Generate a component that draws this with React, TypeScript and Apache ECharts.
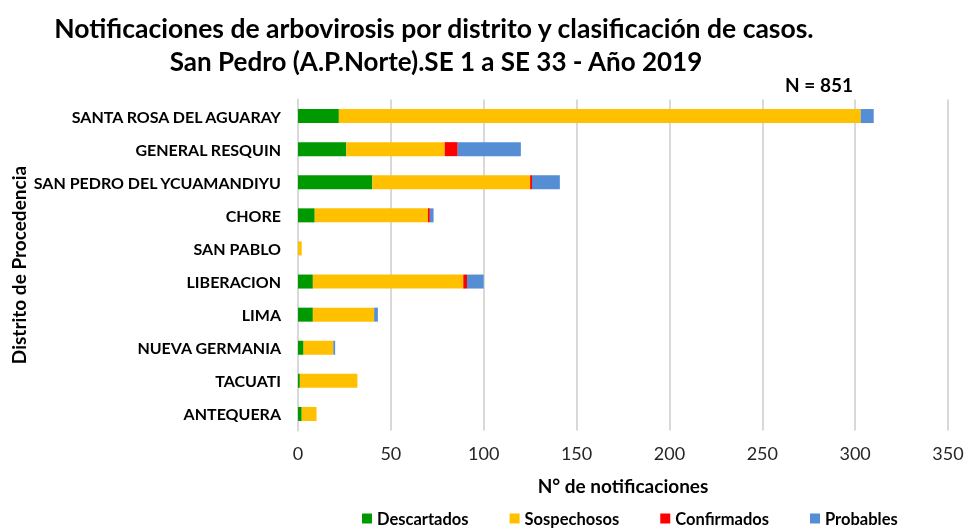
import React, { useEffect, useRef } from "react";
import * as echarts from "echarts";

const districts = [
  "SANTA ROSA DEL AGUARAY",
  "GENERAL RESQUIN",
  "SAN PEDRO DEL YCUAMANDIYU",
  "CHORE",
  "SAN PABLO",
  "LIBERACION",
  "LIMA",
  "NUEVA GERMANIA",
  "TACUATI",
  "ANTEQUERA",
];
const descartados = [22, 26, 40, 9, 0, 8, 8, 3, 1, 2];
const sospechosos = [281, 53, 85, 61, 2, 81, 33, 16, 31, 8];
const confirmados = [0, 7, 1, 1, 0, 2, 0, 0, 0, 0];
const probables = [7, 34, 15, 2, 0, 9, 2, 1, 0, 0];

const seriesNames = ["Descartados", "Sospechosos", "Confirmados", "Probables"];
const seriesColors = ["#009900", "#FFC000", "#FF0000", "#558ED5"];
const seriesData = [descartados, sospechosos, confirmados, probables];

const FONT = "Lato, 'Open Sans', sans-serif";

export default function App() {
  const ref = useRef<HTMLDivElement>(null);
  useEffect(() => {
    const chart = echarts.init(ref.current!, null, { renderer: "svg" });
    chart.setOption({
      animation: false,
      textStyle: { fontFamily: FONT },
      title: [
        {
          text: "Notificaciones de arbovirosis por distrito y clasificación de casos.",
          left: 429,
          textAlign: "center",
          top: 9,
          textStyle: { fontFamily: FONT, fontSize: 26.5, fontWeight: "bold", color: "#000" },
        },
        {
          text: "San Pedro (A.P.Norte).SE 1 a SE 33 - Año 2019",
          left: 431,
          textAlign: "center",
          top: 43,
          textStyle: { fontFamily: FONT, fontSize: 26, fontWeight: "bold", color: "#000" },
        },
        {
          text: "N = 851",
          left: 780,
          top: 70,
          textStyle: { fontFamily: FONT, fontSize: 19, fontWeight: "bold", color: "#000" },
        },
      ],
      legend: {
        bottom: -4,
        left: 357,
        itemWidth: 10,
        itemHeight: 10,
        itemGap: 41,
        icon: "rect",
        textStyle: { fontFamily: FONT, fontSize: 16.5, fontWeight: "bold", color: "#000" },
        data: seriesNames,
      },
      grid: { left: 298, right: 21, top: 99.5, bottom: 97.5, containLabel: false, outerBoundsMode: "none" },
      xAxis: {
        type: "value",
        min: 0,
        max: 350,
        interval: 50,
        name: "N° de notificaciones",
        nameLocation: "middle",
        nameGap: 45,
        nameMoveOverlap: false,
        nameTextStyle: { fontFamily: FONT, fontSize: 19, fontWeight: "bold", color: "#000" },
        axisLine: { show: false },
        axisTick: { show: false },
        axisLabel: { fontFamily: FONT, fontSize: 18, color: "#262626", margin: 13 },
        splitLine: { show: true, lineStyle: { color: "#d9d9d9", width: 2 } },
      },
      yAxis: {
        type: "category",
        inverse: true,
        data: districts,
        name: "Distrito de Procedencia",
        nameLocation: "middle",
        nameGap: 270,
        nameMoveOverlap: false,
        nameRotate: 90,
        nameTextStyle: { fontFamily: FONT, fontSize: 19, fontWeight: "bold", color: "#000" },
        axisLine: { show: true, lineStyle: { color: "#d9d9d9", width: 2 } },
        axisTick: { show: false },
        axisLabel: { fontFamily: FONT, fontSize: 16, fontWeight: "bold", color: "#000", margin: 17 },
      },
      series: seriesNames.map((name, i) => ({
        name,
        type: "bar",
        stack: "total",
        barWidth: 14,
        itemStyle: { color: seriesColors[i] },
        data: seriesData[i],
      })),
    });
    return () => chart.dispose();
  }, []);
  return (
    <div
      ref={ref}
      style={{ position: "fixed", left: 0, top: 0, width: 969, height: 528 }}
    />
  );
}
